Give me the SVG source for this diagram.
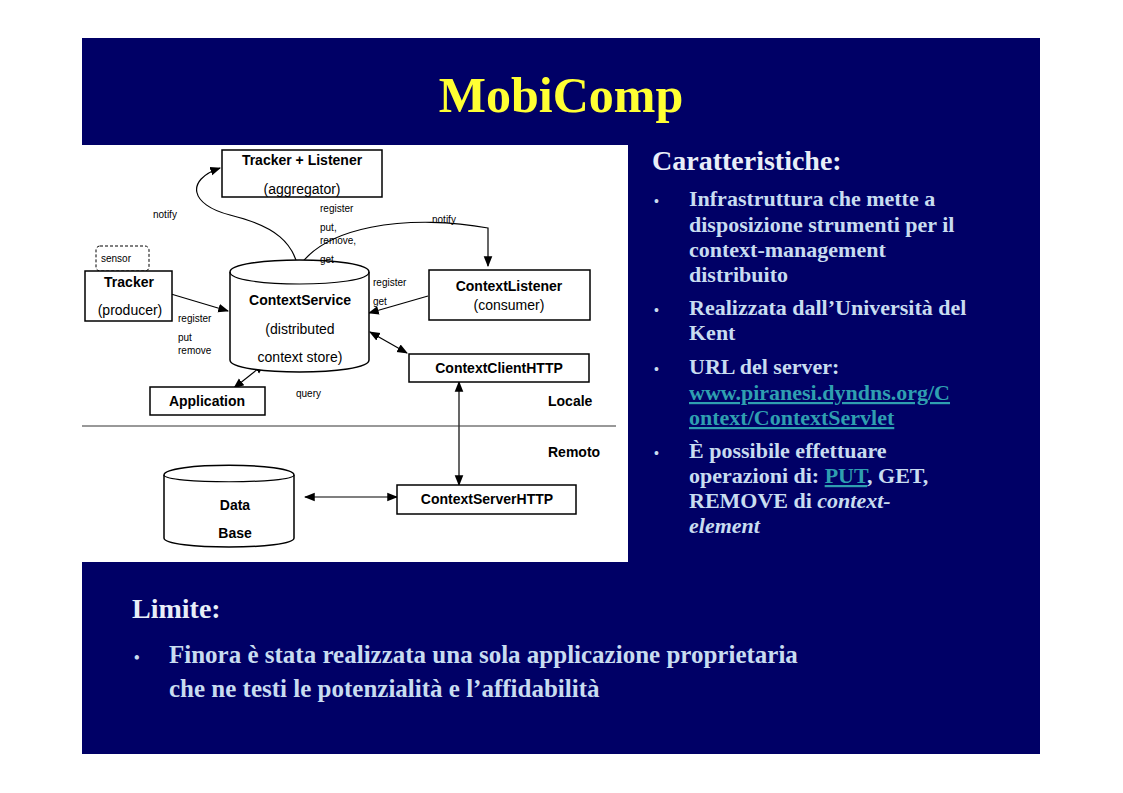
<svg xmlns="http://www.w3.org/2000/svg" width="1123" height="793" viewBox="0 0 1123 793">
<style>
.b{fill:#fff;stroke:#000;stroke-width:1.5}
.c{fill:none;stroke:#000;stroke-width:1.2}
.t{font-family:"Liberation Sans",Arial,sans-serif;fill:#000}
.s{font-size:10px}
.m{font-size:14px}
.bd{font-size:14px;font-weight:bold}
.r{font-family:"Liberation Serif","Times New Roman",serif;font-weight:bold;fill:#c8dcf0;font-size:22px}
.h{font-family:"Liberation Serif","Times New Roman",serif;font-weight:bold;fill:#e8eef8;font-size:28px}
.l{fill:#2f9fb0;text-decoration:underline}
</style>
<defs>
<marker id="a" viewBox="0 0 10 10" refX="9" refY="5" markerWidth="9" markerHeight="9" orient="auto-start-reverse"><path d="M0,1 L10,5 L0,9 z" fill="#000"/></marker>
</defs>
<rect width="1123" height="793" fill="#fff"/>
<rect x="82" y="38" width="958" height="716" fill="#000066"/>
<text x="561" y="112" text-anchor="middle" font-family="Liberation Serif,serif" font-weight="bold" font-size="50" fill="#ffff33">MobiComp</text>
<rect x="82" y="145" width="546" height="417" fill="#fff"/>
<g id="connectors">
<path class="c" d="M300,285 C300,240 270,225 230,215 C190,205 185,180 220,168" marker-end="url(#a)"/>
<path class="c" d="M290,285 C310,220 420,215 488,228 L488,266" marker-end="url(#a)"/>
<line class="c" x1="171" y1="294" x2="228" y2="311" marker-end="url(#a)"/>
<line class="c" x1="428" y1="296" x2="369" y2="313" marker-end="url(#a)"/>
<line class="c" x1="370" y1="332" x2="407" y2="353" marker-start="url(#a)" marker-end="url(#a)"/>
<line class="c" x1="264" y1="364" x2="234" y2="388" marker-start="url(#a)" marker-end="url(#a)"/>
<line class="c" x1="459" y1="382" x2="459" y2="485" marker-start="url(#a)" marker-end="url(#a)"/>
<line class="c" x1="305" y1="497" x2="397" y2="497" marker-start="url(#a)" marker-end="url(#a)"/>
<line x1="82" y1="426" x2="616" y2="426" stroke="#333" stroke-width="1"/>
</g>
<g id="tracker-listener"><rect class="b" x="222" y="150" width="160" height="47"/><text class="t bd" x="302" y="165" text-anchor="middle">Tracker + Listener</text><text class="t m" x="302" y="194" text-anchor="middle">(aggregator)</text></g>
<g id="sensor"><rect x="96" y="246" width="53" height="25" rx="4" fill="#fff" stroke="#000" stroke-dasharray="3,2"/><text class="t s" x="101" y="262">sensor</text></g>
<g id="tracker"><rect class="b" x="85" y="271" width="87" height="50"/><text class="t bd" x="129" y="287" text-anchor="middle">Tracker</text><text class="t m" x="130" y="315" text-anchor="middle">(producer)</text></g>
<g id="contextservice"><path class="b" d="M230,272 C230,256 369,256 369,272 L369,360 C369,376 230,376 230,360 Z"/><path class="c" d="M230,272 C230,288 369,288 369,272"/><text class="t bd" x="300" y="305" text-anchor="middle">ContextService</text><text class="t m" x="300" y="334" text-anchor="middle">(distributed</text><text class="t m" x="300" y="362" text-anchor="middle">context store)</text></g>
<g id="contextlistener"><rect class="b" x="429" y="270" width="161" height="50"/><text class="t bd" x="509" y="291" text-anchor="middle">ContextListener</text><text class="t m" x="509" y="310" text-anchor="middle">(consumer)</text></g>
<g id="contextclienthttp"><rect class="b" x="409" y="354" width="180" height="28"/><text class="t bd" x="499" y="373" text-anchor="middle">ContextClientHTTP</text></g>
<g id="application"><rect class="b" x="150" y="387" width="115" height="28"/><text class="t bd" x="207" y="406" text-anchor="middle">Application</text></g>
<g id="database"><path class="b" d="M164,475 C164,462 294,462 294,475 L294,538 C294,550 164,550 164,538 Z"/><path class="c" d="M164,475 C164,484 294,484 294,475"/><text class="t bd" x="235" y="510" text-anchor="middle">Data</text><text class="t bd" x="235" y="538" text-anchor="middle">Base</text></g>
<g id="contextserverhttp"><rect class="b" x="397" y="485" width="179" height="29"/><text class="t bd" x="487" y="504" text-anchor="middle">ContextServerHTTP</text></g>
<g class="t s">
<text x="153" y="218">notify</text><text x="320" y="212">register</text><text x="432" y="223">notify</text>
<text x="320" y="231">put,</text><text x="320" y="244">remove,</text><text x="320" y="263">get</text>
<text x="373" y="286">register</text><text x="373" y="305">get</text>
<text x="178" y="322">register</text><text x="178" y="341">put</text><text x="178" y="354">remove</text>
<text x="296" y="397">query</text>
</g>
<text class="t bd" x="548" y="406">Locale</text>
<text class="t bd" x="548" y="457">Remoto</text>
<text class="h" x="652" y="170">Caratteristiche:</text>
<g class="r">
<text x="654" y="206" font-size="14">•</text>
<text x="689" y="206">Infrastruttura che mette a</text>
<text x="689" y="232">disposizione strumenti per il</text>
<text x="689" y="257">context-management</text>
<text x="689" y="282">distribuito</text>
<text x="654" y="315" font-size="14">•</text>
<text x="689" y="315">Realizzata dall’Università del</text>
<text x="689" y="340">Kent</text>
<text x="654" y="374" font-size="14">•</text>
<text x="689" y="374">URL del server:</text>
<text x="689" y="400" class="l">www.piranesi.dyndns.org/C</text>
<text x="689" y="425" class="l">ontext/ContextServlet</text>
<text x="654" y="458" font-size="14">•</text>
<text x="689" y="458">È possibile effettuare</text>
<text x="689" y="483">operazioni di: <tspan class="l">PUT</tspan>, GET,</text>
<text x="689" y="508">REMOVE di <tspan font-style="italic">context-</tspan></text>
<text x="689" y="533" font-style="italic">element</text>
</g>
<text class="h" x="132" y="618">Limite:</text>
<g class="r" font-size="25">
<text x="134" y="663" font-size="16">•</text>
<text x="169" y="663" font-size="25">Finora è  stata realizzata una sola applicazione proprietaria</text>
<text x="169" y="697" font-size="25">che ne testi le potenzialità e l’affidabilità</text>
</g>
</svg>
